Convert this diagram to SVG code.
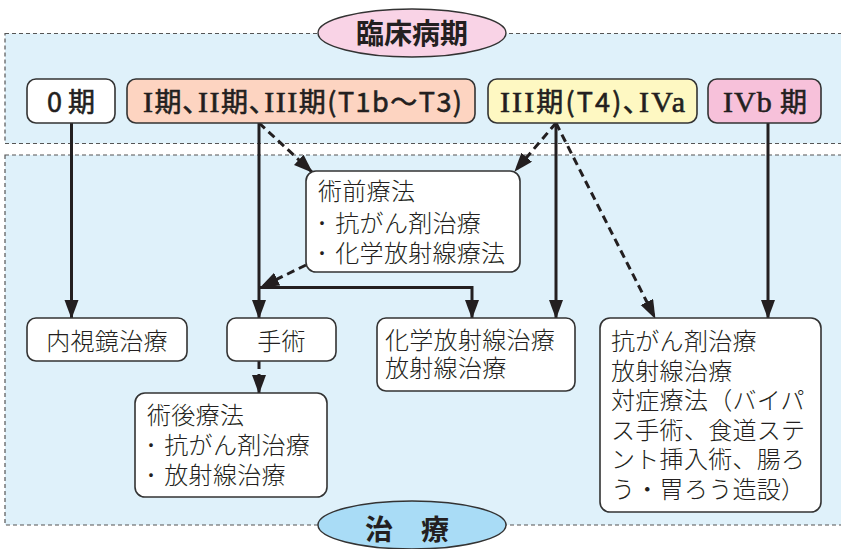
<svg xmlns="http://www.w3.org/2000/svg" width="841" height="549" viewBox="0 0 841 549">
<defs>
<marker id="ah" markerUnits="userSpaceOnUse" markerWidth="20" markerHeight="16" refX="18" refY="7" orient="auto">
<path d="M0,0 L19,7 L0,14 z" fill="#231f20"/>
</marker>
<style>
.panel{fill:#dff1fa;stroke:#555;stroke-width:1.2;stroke-dasharray:4 3}
.box{stroke:#333;stroke-width:1.6}
.w{fill:#fff}
.t{font-family:"Noto Sans CJK JP","Noto Sans",sans-serif;fill:#231f20}
.hd{font-size:27px;font-weight:normal;stroke:#231f20;stroke-width:0.6}
.rn{font-family:"Liberation Serif",serif;font-size:30px;font-weight:normal}
.bd{font-size:24px;font-weight:300;letter-spacing:0.3px}
.ttl{font-size:28px;font-weight:bold}
.c{fill:none;stroke:#231f20;stroke-width:3}
.d{stroke-dasharray:8 5}
</style>
</defs>
<rect class="panel" x="5" y="33.5" width="850" height="110"/>
<rect class="panel" x="5" y="155" width="850" height="370"/>

<g id="title-stage">
<ellipse cx="412" cy="33" rx="94" ry="24" fill="#f9d3e6" stroke="#333" stroke-width="1.4"/>
<text class="t ttl" x="412" y="44" text-anchor="middle">臨床病期</text>
</g>
<g id="title-treat">
<ellipse cx="412" cy="525" rx="94" ry="24" fill="#a9dcf6" stroke="#333" stroke-width="1.4"/>
<text class="t ttl" x="407" y="540" text-anchor="middle">治　療</text>
</g>

<g id="connectors">
<line class="c" x1="71.5" y1="123" x2="71.5" y2="318" marker-end="url(#ah)"/>
<line class="c" x1="259" y1="123" x2="259" y2="318" marker-end="url(#ah)"/>
<polyline class="c" points="259,287.5 472,287.5 472,318" marker-end="url(#ah)"/>
<line class="c d" x1="259" y1="123" x2="312" y2="172" marker-end="url(#ah)"/>
<line class="c d" x1="306" y1="265" x2="261" y2="287" marker-end="url(#ah)"/>
<line class="c" x1="556" y1="123" x2="556" y2="318" marker-end="url(#ah)"/>
<line class="c d" x1="556" y1="123" x2="515" y2="171" marker-end="url(#ah)"/>
<line class="c d" x1="556" y1="123" x2="655" y2="318" marker-end="url(#ah)"/>
<line class="c" x1="768" y1="123" x2="768" y2="318" marker-end="url(#ah)"/>
<line class="c d" x1="259" y1="361" x2="259" y2="393" marker-end="url(#ah)"/>
</g>

<g id="stage0">
<rect class="box w" x="27" y="79" width="88" height="44" rx="9"/>
<text class="t hd" x="71" y="112" text-anchor="middle">0 期</text>
</g>
<g id="stage1-3">
<rect class="box" x="127" y="79" width="348" height="44" rx="9" fill="#fdd4c1"/>
<text class="t hd" x="143" y="112" textLength="319" lengthAdjust="spacing"><tspan class="rn">I</tspan>期､<tspan class="rn">II</tspan>期､<tspan class="rn">III</tspan>期(T1b～T3)</text>
</g>
<g id="stage3-4a">
<rect class="box" x="488" y="79" width="209" height="44" rx="9" fill="#fef8c2"/>
<text class="t hd" x="500" y="112" textLength="185" lengthAdjust="spacing"><tspan class="rn">III</tspan>期(T4)､<tspan class="rn">IVa</tspan></text>
</g>
<g id="stage4b">
<rect class="box" x="708" y="79" width="113" height="44" rx="9" fill="#f7c1da"/>
<text class="t hd" x="723" y="112" textLength="84" lengthAdjust="spacing"><tspan class="rn">IVb</tspan> 期</text>
</g>

<g id="preop">
<rect class="box w" x="306" y="171" width="214" height="101" rx="10"/>
<text class="t bd" x="318" y="200">術前療法</text>
<text class="t bd" x="316" y="232">･<tspan dx="7">抗がん剤治療</tspan></text>
<text class="t bd" x="316" y="262">･<tspan dx="7">化学放射線療法</tspan></text>
</g>
<g id="endoscopy">
<rect class="box w" x="27" y="318" width="160" height="43" rx="9"/>
<text class="t bd" x="107" y="350" text-anchor="middle">内視鏡治療</text>
</g>
<g id="surgery">
<rect class="box w" x="227" y="318" width="109" height="43" rx="9"/>
<text class="t bd" x="281.5" y="350" text-anchor="middle">手術</text>
</g>
<g id="crt">
<rect class="box w" x="377" y="318" width="198" height="73" rx="9"/>
<text class="t bd" x="385" y="349">化学放射線治療</text>
<text class="t bd" x="385" y="377">放射線治療</text>
</g>
<g id="palliative">
<rect class="box w" x="600" y="318" width="221" height="194" rx="10"/>
<text class="t bd" x="611" y="350">抗がん剤治療</text>
<text class="t bd" x="611" y="379.5">放射線治療</text>
<text class="t bd" x="611" y="409">対症療法（バイパ</text>
<text class="t bd" x="611" y="438.5">ス手術、食道ステ</text>
<text class="t bd" x="611" y="468">ント挿入術、腸ろ</text>
<text class="t bd" x="611" y="497.5">う・胃ろう造設）</text>
</g>
<g id="postop">
<rect class="box w" x="135" y="393" width="192" height="104" rx="10"/>
<text class="t bd" x="147" y="424">術後療法</text>
<text class="t bd" x="145" y="454">･<tspan dx="7">抗がん剤治療</tspan></text>
<text class="t bd" x="145" y="484">･<tspan dx="7">放射線治療</tspan></text>
</g>
</svg>
